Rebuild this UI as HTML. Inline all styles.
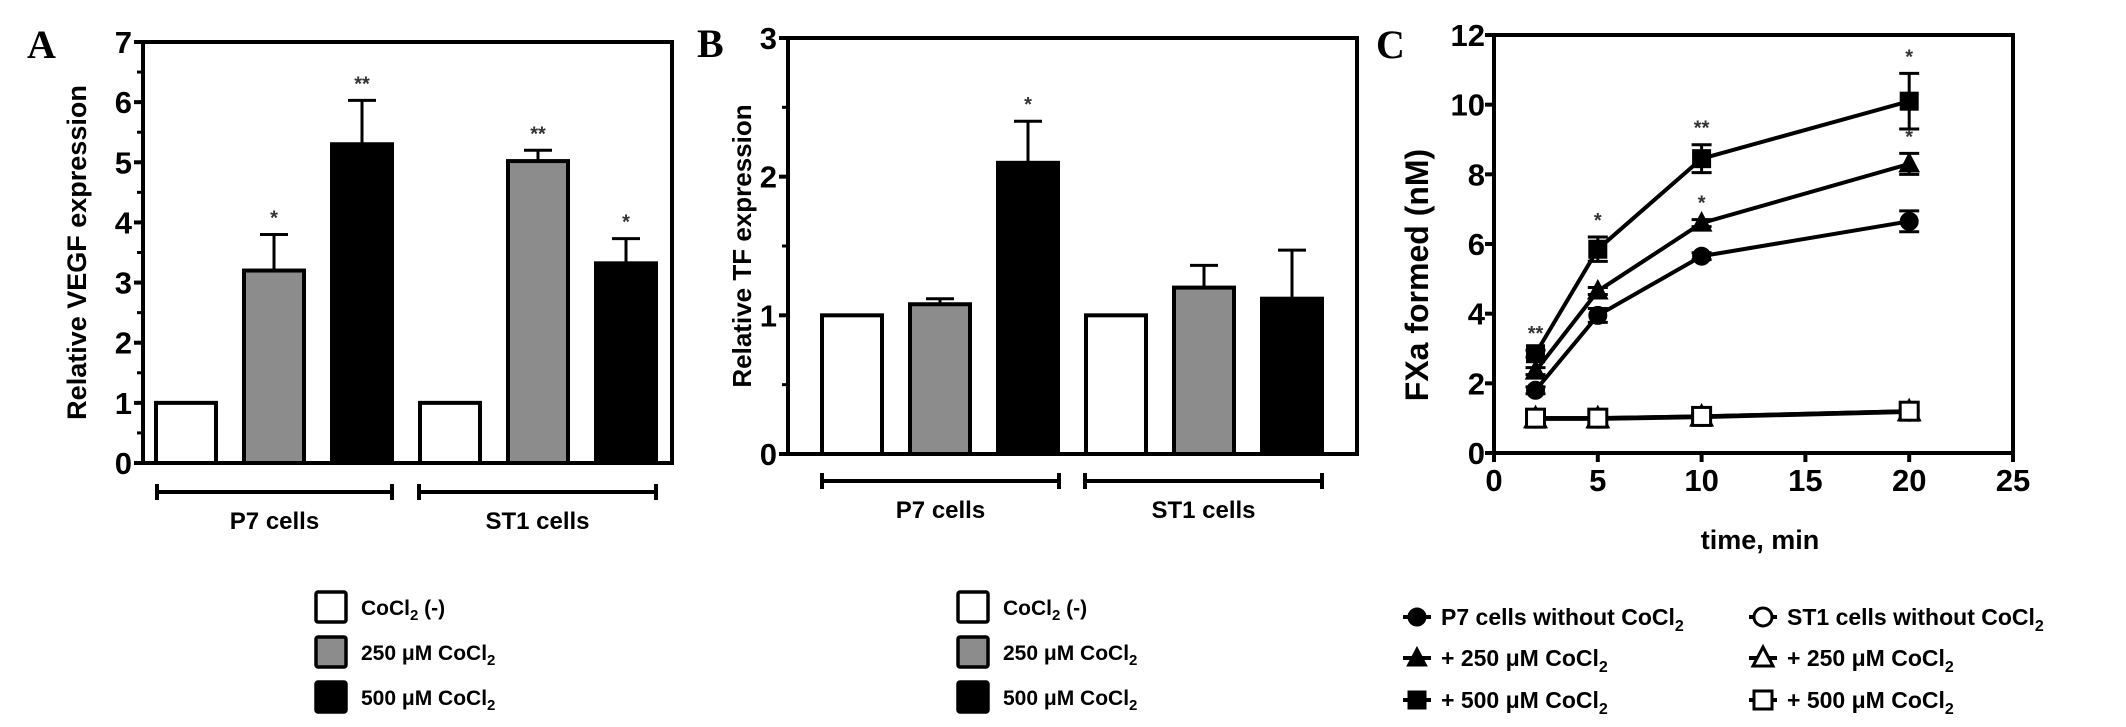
<!DOCTYPE html>
<html><head><meta charset="utf-8"><style>
html,body{margin:0;padding:0;background:#fff;}
svg{display:block;font-family:"Liberation Sans",Arial,sans-serif;font-weight:bold;}
.nar{font-family:"Liberation Sans Narrow","Liberation Sans",sans-serif;}
.pl{font-family:"Liberation Serif",serif;font-weight:bold;font-size:40px;}
</style></head><body>
<svg id="fig" width="2126" height="727" viewBox="0 0 2126 727" xmlns="http://www.w3.org/2000/svg"></svg>
<script>
// Panel A data
const aGroups = ["P7 cells","ST1 cells"];
const aValues = [1, 3.2, 5.3, 1, 5.02, 3.32];
const aErrTop = [1, 3.8, 6.03, 1, 5.2, 3.73];
const aStars = ["", "*", "**", "", "**", "*"];
const aTicks = [0,1,2,3,4,5,6,7];
// Panel B data
const bValues = [1, 1.08, 2.1, 1, 1.2, 1.12];
const bErrTop = [1, 1.12, 2.4, 1, 1.36, 1.47];
const bStars = ["", "", "*", "", "", ""];
const bTicks = [0,1,2,3];
// Panel C data
const cTimes = [2, 5, 10, 20];
const cP7 = [1.8, 3.95, 5.65, 6.65];
const cP7Err = [0.1, 0.2, 0.1, 0.3];
const cP7_250 = [2.35, 4.65, 6.6, 8.3];
const cP7_250Err = [0.1, 0.1, 0.1, 0.3];
const cP7_500 = [2.85, 5.85, 8.45, 10.1];
const cP7_500Err = [0.1, 0.35, 0.4, 0.8];
const cST1 = [1.0, 1.0, 1.05, 1.2];
const cST1_250 = [0.98, 0.98, 1.03, 1.18];
const cST1_500 = [1.0, 1.0, 1.05, 1.2];
const cStars500 = ["**", "*", "**", "*"];
const cStars250 = ["", "", "*", "*"];
const cXTicks = [0,5,10,15,20,25];
const cYTicks = [0,2,4,6,8,10,12];

const NS="http://www.w3.org/2000/svg";
const svg=document.getElementById('fig');
function mk(tag,attrs,parent){const e=document.createElementNS(NS,tag);for(const k in attrs)e.setAttribute(k,attrs[k]);(parent||svg).appendChild(e);return e;}
const fills=["#fff","#8c8c8c","#000"];

function barPanel(cfg){
  const g=mk('g',{});
  
  
  const y=v=>cfg.y0-(v/cfg.max)*(cfg.y0-cfg.yTop);
  const fr=mk('path',{d:`M${cfg.ax},${cfg.yTop} L${cfg.right},${cfg.yTop} L${cfg.right},${cfg.y0}`,fill:'none',stroke:'#000','stroke-width':4},g);
  
  
  cfg.vals.forEach((v,i)=>{
    const cx=cfg.x0+i*cfg.step+(i>=3?cfg.gap:0);
    const w=cfg.bw;
    const eb=mk('line',{x1:cx,x2:cx,y1:y(v),y2:y(cfg.err[i]),stroke:'#000','stroke-width':3},g);
    
    
    if(cfg.err[i]>v){const c=mk('line',{x1:cx-14,x2:cx+14,y1:y(cfg.err[i]),y2:y(cfg.err[i]),stroke:'#000','stroke-width':3},g);
      
      }
    const r=mk('rect',{x:cx-w/2,y:y(v),width:w,height:cfg.y0-y(v),fill:fills[i%3],stroke:'#000','stroke-width':4},g);
    
    
    if(cfg.stars[i]){const t=mk('text',{x:cx,y:y(cfg.err[i])-10,'text-anchor':'middle','font-size':20,fill:'#333'},g);t.textContent=cfg.stars[i];
      
      }
  });
  const ax=mk('path',{d:`M${cfg.ax},${cfg.yTop-2} L${cfg.ax},${cfg.y0} L${cfg.right+2},${cfg.y0}`,fill:'none',stroke:'#000','stroke-width':4},g);
  
  
  cfg.ticks.forEach(tv=>{
    mk('line',{x1:cfg.ax-9,x2:cfg.ax,y1:y(tv),y2:y(tv),stroke:'#000','stroke-width':4},g);
    if(tv<cfg.max) mk('line',{x1:cfg.ax-6,x2:cfg.ax,y1:y(tv+0.5),y2:y(tv+0.5),stroke:'#000','stroke-width':3},g);
    const t=mk('text',{x:cfg.ax-11,y:y(tv)+11,'text-anchor':'end','font-size':31},g);t.textContent=tv;
    
    
  });
  const yt=mk('text',{transform:`translate(${cfg.titleX},${(cfg.y0+cfg.yTop)/2}) rotate(-90)`,'text-anchor':'middle','font-size':cfg.titleSize},g);
  yt.textContent=cfg.title;
  
  
  cfg.brackets.forEach((b,i)=>{
    mk('path',{d:`M${b[0]},${cfg.by-8} L${b[0]},${cfg.by+8} M${b[0]},${cfg.by} L${b[1]},${cfg.by} M${b[1]},${cfg.by-8} L${b[1]},${cfg.by+8}`,stroke:'#000','stroke-width':4,fill:'none'},g);
    const t=mk('text',{x:(b[0]+b[1])/2,y:cfg.by+37,'text-anchor':'middle','font-size':24},g);t.textContent=aGroups[i];
    
    
  });
  const labels=[['CoCl','2',' (-)'],['250 μM CoCl','2',''],['500 μM CoCl','2','']];
  labels.forEach((l,i)=>{
    const ry=606+i*45;
    const r=mk('rect',{x:cfg.legX,y:ry-14,width:30,height:30,fill:fills[i],stroke:'#000','stroke-width':3.5,rx:2},g);
    
    
    const t=mk('text',{x:cfg.legX+45,y:ry+9,'font-size':21},g);
    
    
    t.innerHTML=`${l[0]}<tspan font-size="15" dy="5">${l[1]}</tspan><tspan dy="-5">${l[2]}</tspan>`;
  });
}

barPanel({name:'panel-a',ax:143,yTop:42,y0:463,max:7,right:672,x0:186,step:88,gap:0,bw:60,vals:aValues,err:aErrTop,stars:aStars,ticks:aTicks,
  title:'Relative VEGF expression',titleX:86,titleSize:27,by:492,brackets:[[157,392],[419,656]],legX:316});
barPanel({name:'panel-b',ax:788,yTop:38,y0:454,max:3,right:1357,x0:852,step:88,gap:0,bw:60,vals:bValues,err:bErrTop,stars:bStars,ticks:bTicks,
  title:'Relative TF expression',titleX:751,titleSize:26,by:481,brackets:[[822,1059],[1085,1322]],legX:958});

[['A',27,58],['B',697,57],['C',1376,58]].forEach(p=>{const t=mk('text',{x:p[1],y:p[2],class:'pl'});t.textContent=p[0];
  
  });

(function(){
  const g=mk('g',{});
  
  
  const X0=1494,X1=2013,Y0=453,Y1=35;
  const xs=v=>X0+v/25*(X1-X0), ys=v=>Y0-v/12*(Y0-Y1);
  const fr=mk('path',{d:`M${X0},${Y1} L${X1},${Y1} L${X1},${Y0}`,fill:'none',stroke:'#000','stroke-width':4},g);
  
  
  function marker(type,x,y,open,par){
    const s=9;let e;
    if(type==='c') e=mk('circle',{cx:x,cy:y,r:s},par);
    else if(type==='t') e=mk('polygon',{points:`${x},${y-s-2} ${x+s+1},${y+s-1} ${x-s-1},${y+s-1}`},par);
    else e=mk('rect',{x:x-s,y:y-s,width:2*s,height:2*s},par);
    e.setAttribute('fill',open?'#fff':'#000');e.setAttribute('stroke','#000');e.setAttribute('stroke-width',open?3:1);
    return e;
  }
  const series=[[cST1,'c',true,null],[cST1_250,'t',true,null],[cST1_500,'s',true,null],
    [cP7,'c',false,cP7Err],[cP7_250,'t',false,cP7_250Err],[cP7_500,'s',false,cP7_500Err]];
  const names=['st1-control','st1-250','st1-500','p7-control','p7-250','p7-500'];
  series.forEach((s,si)=>{
    const sg=mk('g',{},g);
    
    
    mk('polyline',{points:cTimes.map((t,i)=>xs(t)+','+ys(s[0][i])).join(' '),fill:'none',stroke:'#000','stroke-width':4},sg);
    cTimes.forEach((t,i)=>{
      if(s[3]){const e=s[3][i];
        mk('path',{d:`M${xs(t)},${ys(s[0][i]+e)} L${xs(t)},${ys(s[0][i]-e)} M${xs(t)-10},${ys(s[0][i]+e)} L${xs(t)+10},${ys(s[0][i]+e)} M${xs(t)-10},${ys(s[0][i]-e)} L${xs(t)+10},${ys(s[0][i]-e)}`,stroke:'#000','stroke-width':3,fill:'none'},sg);}
      const m=marker(s[1],xs(t),ys(s[0][i]),s[2],sg);
      
      
    });
  });
  cTimes.forEach((t,i)=>{
    [[cStars500,cP7_500,cP7_500Err],[cStars250,cP7_250,cP7_250Err]].forEach(a=>{
      if(a[0][i]){const tx=mk('text',{x:xs(t),y:ys(a[1][i]+a[2][i])-10,'text-anchor':'middle','font-size':20,fill:'#333'},g);tx.textContent=a[0][i];
        
        }
    });
  });
  const ax=mk('path',{d:`M${X0},${Y1-2} L${X0},${Y0} L${X1+2},${Y0}`,fill:'none',stroke:'#000','stroke-width':4},g);
  
  
  cYTicks.forEach(v=>{
    mk('line',{x1:X0-9,x2:X0,y1:ys(v),y2:ys(v),stroke:'#000','stroke-width':4},g);
    const t=mk('text',{x:X0-9,y:ys(v)+11,'text-anchor':'end','font-size':31,class:'nar'},g);t.textContent=v;
    
    
  });
  cXTicks.forEach(v=>{
    mk('line',{x1:xs(v),x2:xs(v),y1:Y0,y2:Y0+9,stroke:'#000','stroke-width':4},g);
    const t=mk('text',{x:xs(v),y:Y0+38,'text-anchor':'middle','font-size':31,class:'nar'},g);t.textContent=v;
    
    
  });
  const yt=mk('text',{transform:`translate(1428,275) rotate(-90)`,'text-anchor':'middle','font-size':32},g);
  yt.textContent='FXa formed (nM)';
  
  
  const xt=mk('text',{x:1760,y:549,'text-anchor':'middle','font-size':27,class:'nar'},g);
  xt.textContent='time, min';
  
  
  const leg=[['P7 cells without CoCl','c',false,1417,617],['+ 250 μM CoCl','t',false,1417,658],['+ 500 μM CoCl','s',false,1417,700],
    ['ST1 cells without CoCl','c',true,1763,617],['+ 250 μM CoCl','t',true,1763,658],['+ 500 μM CoCl','s',true,1763,700]];
  leg.forEach(l=>{
    mk('line',{x1:l[3]-14,x2:l[3]+14,y1:l[4],y2:l[4],stroke:'#000','stroke-width':4},g);
    marker(l[1],l[3],l[4],l[2],g);
    const t=mk('text',{x:l[3]+24,y:l[4]+8,'font-size':23,class:'nar'},g);
    
    
    t.innerHTML=`${l[0]}<tspan font-size="16" dy="6">2</tspan>`;
  });
})();
</script>
</body></html>
